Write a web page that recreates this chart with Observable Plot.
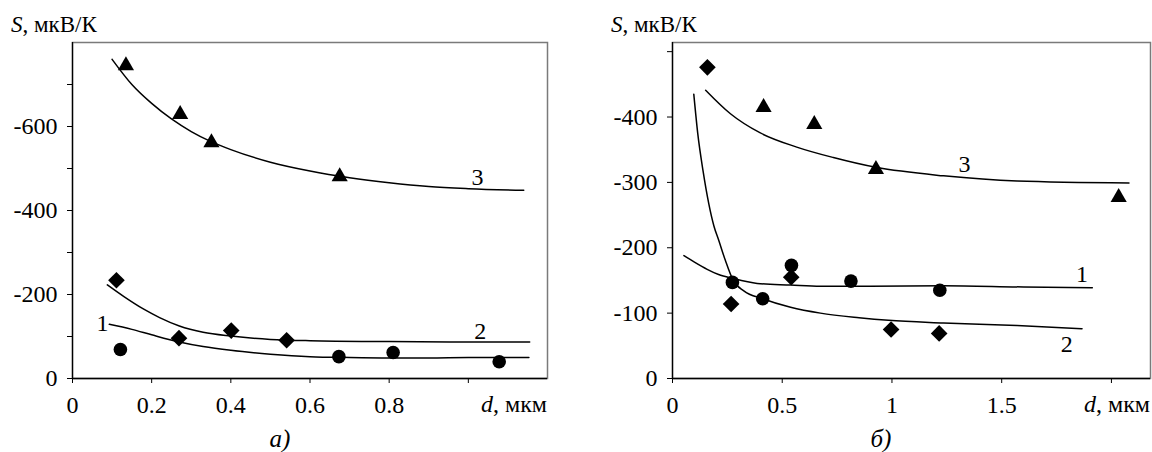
<!DOCTYPE html>
<html><head><meta charset="utf-8">
<script src="https://cdn.jsdelivr.net/npm/d3@7"></script>
<script src="https://cdn.jsdelivr.net/npm/@observablehq/plot@0.6"></script>
<style>
body{margin:0;background:#fff}
#wrap{position:relative;width:1152px;height:452px;font-family:'Liberation Serif','DejaVu Serif',serif;color:#000;overflow:hidden;background:#fff}
.panel{position:absolute;top:0}
.lbl{position:absolute;white-space:nowrap;line-height:1;font-family:'Liberation Serif','DejaVu Serif',serif}
svg text{font-family:'Liberation Serif','DejaVu Serif',serif}
</style></head><body>
<div id="wrap">
  <div class="panel" id="pa" style="left:0"></div>
  <div class="panel" id="pb" style="left:576px"></div>
  <div class="lbl" style="left:11px;top:13px;font-size:23px"><i>S</i>, мкВ/К</div>
  <div class="lbl" style="left:611px;top:13px;font-size:23px"><i>S</i>, мкВ/К</div>
  <div class="lbl" style="right:605px;top:392px;font-size:24px"><i>d</i>, мкм</div>
  <div class="lbl" style="right:2px;top:392px;font-size:24px"><i>d</i>, мкм</div>
  <div class="lbl" style="left:280px;top:426px;font-size:25px;transform:translateX(-50%)"><i>а)</i></div>
  <div class="lbl" style="left:881px;top:426px;font-size:25px;transform:translateX(-50%)"><i>б)</i></div>
</div>
<script>
// ---------- Panel а ----------
const aTriD = [0.135, 0.272, 0.351, 0.675];
const aTriS = [-745, -629, -562, -481];
const aDiaD = [0.111, 0.269, 0.401, 0.541];
const aDiaS = [-234, -96, -114, -91];
const aCirD = [0.121, 0.673, 0.810, 1.078];
const aCirS = [-69, -52, -62, -40];

const aC3D = [0.10, 0.15, 0.20, 0.25, 0.30, 0.35, 0.40, 0.50, 0.60, 0.70, 0.80, 0.90, 1.00, 1.14];
const aC3S = [-760, -700, -655, -618, -588, -564, -545, -515, -494, -478, -466, -457, -452, -448];
const aC2D = [0.088, 0.13, 0.18, 0.22, 0.27, 0.33, 0.40, 0.50, 0.60, 0.80, 1.00, 1.155];
const aC2S = [-223, -195, -165, -145, -125, -110, -101, -93, -90, -88, -87, -87];
const aC1D = [0.093, 0.15, 0.20, 0.27, 0.33, 0.40, 0.50, 0.60, 0.70, 0.80, 0.90, 1.00, 1.153];
const aC1S = [-129, -117, -104, -87, -76, -67, -58, -52, -50, -49, -49, -50, -50];

const aLabelText = ["1", "2", "3"];
const aLabelD = [0.076, 1.03, 1.023];
const aLabelS = [-131, -113, -478];

const aXTicks = [0, 0.2, 0.4, 0.6, 0.8, 1.0];
const aYTicks = [0, -100, -200, -300, -400, -500, -600, -700];
const aXMax = 1.2, aYMin = -800;

// ---------- Panel б ----------
const bTriD = [0.415, 0.646, 0.927, 2.033];
const bTriS = [-415, -389, -320, -277];
const bDiaD = [0.159, 0.267, 0.541, 0.996, 1.215];
const bDiaS = [-476, -114, -155, -75, -69];
const bCirD = [0.273, 0.411, 0.542, 0.813, 1.218];
const bCirS = [-147, -122, -173, -149, -135];

const bC3D = [0.151, 0.264, 0.398, 0.566, 0.733, 0.927, 1.235, 1.57, 2.08];
const bC3S = [-441, -405, -376, -354, -338, -323, -310, -302, -299];
const bC1D = [0.052, 0.10, 0.158, 0.21, 0.275, 0.386, 0.538, 0.674, 0.90, 1.235, 1.60, 1.913];
const bC1S = [-188, -178, -167, -159, -153, -145.5, -143, -141, -141, -142, -140, -139];
const bC2D = [0.097, 0.115, 0.139, 0.165, 0.189, 0.211, 0.2415, 0.275, 0.325, 0.411, 0.538, 0.674, 0.85, 0.984, 1.235, 1.57, 1.866];
const bC2S = [-435, -375, -318, -268, -233, -211, -180, -151, -134, -122, -109, -100, -93, -89, -85, -81, -76];

const bLabelText = ["1", "2", "3"];
const bLabelD = [1.866, 1.796, 1.33];
const bLabelS = [-160, -52, -328];

const bXTicks = [0, 0.5, 1, 1.5, 2];
const bYTicks = [0, -100, -200, -300, -400, -500];
const bXMax = 2.178, bYMin = -514;

const rows = (ds, ss) => ds.map((d, i) => ({d, s: ss[i]}));
const FONT = "'Liberation Serif','DejaVu Serif',serif";

function panel(cfg) {
  return Plot.plot({
    width: 576, height: 452,
    marginLeft: cfg.ml, marginRight: cfg.mr, marginTop: 42, marginBottom: 74,
    style: {fontFamily: FONT, fontSize: "24px", background: "white", color: "black"},
    x: {domain: [0, cfg.xmax]},
    y: {domain: [0, cfg.ymin]},
    marks: [
      Plot.frame({stroke: "#7a7a7a", strokeWidth: 1.5}),
      Plot.ruleX([0], {stroke: "black", strokeWidth: 1.3}),
      Plot.ruleY([0], {stroke: "black", strokeWidth: 1.3}),
      Plot.axisX({ticks: cfg.xticks, tickFormat: cfg.xfmt, tickSize: 5, tickPadding: 12, label: null, fontSize: 24}),
      Plot.axisY({ticks: cfg.yticks, tickFormat: cfg.yfmt, tickSize: 5, tickPadding: 10, label: null, fontSize: 24}),
      ...cfg.curves.map(c => Plot.line(c, {x: "d", y: "s", curve: "monotone-x", stroke: "black", strokeWidth: 1.5})),
      Plot.dot(cfg.tri, {x: "d", y: "s", symbol: "triangle", r: 6, fill: "black", stroke: "none"}),
      Plot.dot(cfg.dia, {x: "d", y: "s", symbol: "diamond2", r: 7.5, fill: "black", stroke: "none"}),
      Plot.dot(cfg.cir, {x: "d", y: "s", symbol: "circle", r: 6.8, fill: "black", stroke: "none"}),
      Plot.text(cfg.labels, {x: "d", y: "s", text: "t", fontSize: 24, fill: "black"})
    ]
  });
}

const aPlot = panel({
  ml: 72, mr: 29, xmax: aXMax, ymin: aYMin,
  xticks: aXTicks, xfmt: d => d === 1 ? "" : String(d),
  yticks: aYTicks, yfmt: d => d % 200 === 0 ? String(d) : "",
  curves: [rows(aC1D, aC1S), rows(aC2D, aC2S), rows(aC3D, aC3S)],
  tri: rows(aTriD, aTriS), dia: rows(aDiaD, aDiaS), cir: rows(aCirD, aCirS),
  labels: aLabelText.map((t, i) => ({t, d: aLabelD[i], s: aLabelS[i]}))
});
const bPlot = panel({
  ml: 96, mr: 2, xmax: bXMax, ymin: bYMin,
  xticks: bXTicks, xfmt: d => d === 2 ? "" : String(d),
  yticks: bYTicks, yfmt: d => d === -500 ? "" : String(d),
  curves: [rows(bC1D, bC1S), rows(bC2D, bC2S), rows(bC3D, bC3S)],
  tri: rows(bTriD, bTriS), dia: rows(bDiaD, bDiaS), cir: rows(bCirD, bCirS),
  labels: bLabelText.map((t, i) => ({t, d: bLabelD[i], s: bLabelS[i]}))
});
document.getElementById("pa").appendChild(aPlot);
document.getElementById("pb").appendChild(bPlot);
</script>
</body></html>
